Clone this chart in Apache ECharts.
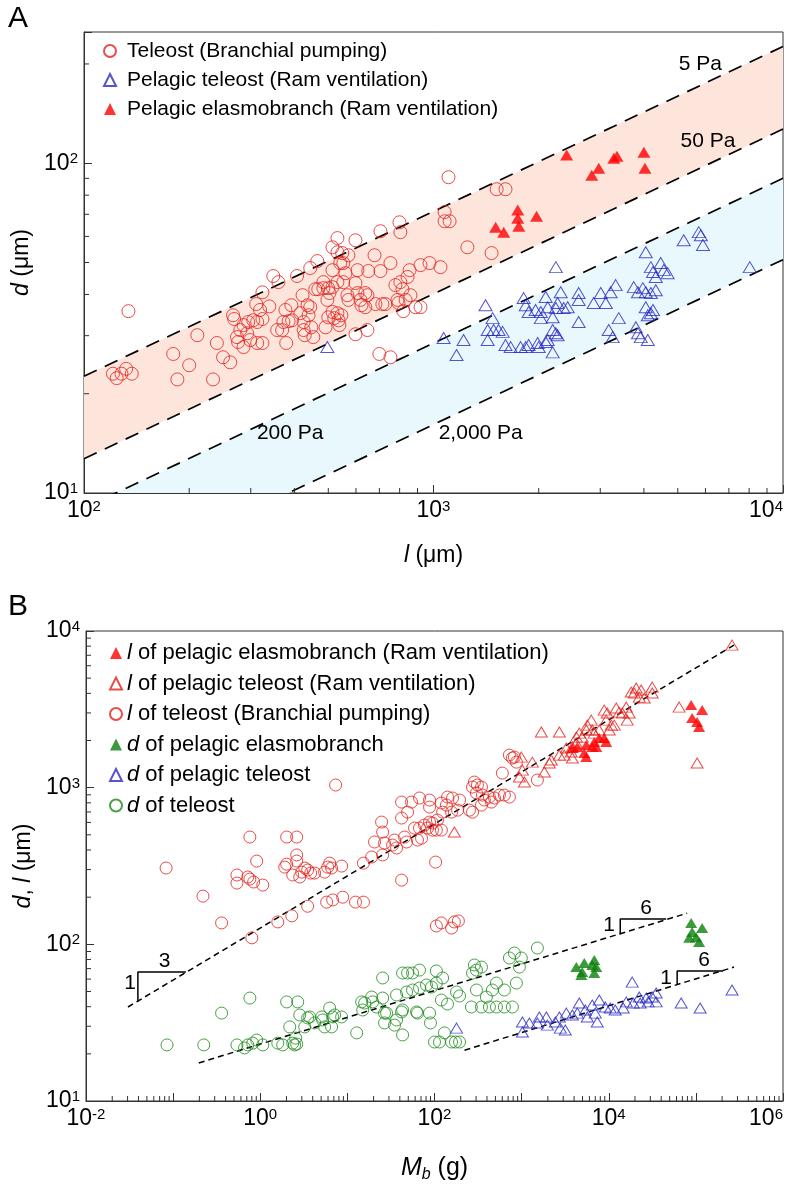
<!DOCTYPE html>
<html lang="en">
<head>
<meta charset="UTF-8" />
<title>Gill spacing vs length and body mass</title>
<script src="https://cdn.jsdelivr.net/npm/echarts@6.0.0/dist/echarts.min.js"></script>
<style>
  html, body { margin: 0; padding: 0; background: #fff; }
  #chart { width: 789px; height: 1188px; }
</style>
</head>
<body>
<div id="chart"></div>
<script>
// ---------- panel A : d vs l ----------
const teleostA = [
  [134,35.6],[121,23.0],[124,22.3],[128,23.0],[132,23.8],[137,23.0],
  [180,26.4],[185,22.1],[200,24.4],[211,30.1],[234,22.1],[240,28.5],[250,25.8],[262,24.9],
  [267,34.6],[269,33.7],[280,31.2],[286,32.3],[295,33.0],[305,33.4],[313,33.0],[324,33.7],
  [274,29.7],[276,28.7],[286,27.7],[293,30.5],[299,29.1],[313,28.5],[324,28.5],
  [311,37.4],[319,35.9],[324,40.6],[339,36.8],[348,45.5],[360,43.6],
  [357,31.2],[369,31.2],[379,28.5],[372,33.0],[385,33.2],[394,33.4],[377,35.9],[392,37.1],
  [407,45.5],[416,35.1],[422,39.8],[425,33.0],[425,31.2],[428,30.1],[436,37.1],[439,34.6],[444,36.6],[447,31.8],[453,29.7],
  [444,48.1],[465,50.5],[459,41.5],[468,41.5],[484,41.8],[500,41.8],[514,42.1],[484,43.6],[497,38.5],[504,40.4],
  [491,31.8],[500,34.1],[514,35.4],[520,33.9],[531,35.1],[535,33.4],[538,32.3],[545,34.6],
  [514,55.6],[531,59.3],[531,53.7],[548,53.4],[552,49.8],[571,52.6],
  [514,47.4],[531,43.6],[541,49.8],[552,43.6],[560,46.4],[567,39.8],[571,38.5],
  [598,58.4],[598,43.3],[606,40.4],[606,47.4],[618,38.5],[622,37.1],[638,40.4],[638,36.6],[647,39.8],
  [598,30.3],[647,31.2],[651,47.1],[678,52.6],[705,47.1],[705,62.2],[682,37.4],[714,37.4],[728,37.4],
  [700,26.4],[753,25.8],[753,49.8],[789,38.5],[794,37.7],[820,35.6],[832,38.5],[859,39.8],[888,36.6],
  [778,42.7],[804,43.6],[815,41.5],[843,45.2],[854,47.4],[799,66.2],[804,61.8],
  [918,49.1],[974,49.8],[1076,71.1],[1076,66.7],[1112,66.7],[1047,48.4],[1104,90.7],
  [1516,83.4],[1607,83.4],[1250,55.6],[1466,53.4],[918,36.6]
];
const pelagicA = [
  [497,27.7],[2239,48.4],[1409,37.1],[1476,33.9],[1486,31.2],[1429,31.2],[1535,31.2],[1577,30.8],[1429,29.1],
  [1069,29.5],[1219,29.1],[1164,26.2],[1607,28.1],[1663,27.7],[1775,27.7],[1836,27.7],[1871,28.1],
  [1986,28.5],[2000,27.7],[2094,28.7],[2123,29.1],[2193,26.7],[2193,31.2],[2239,30.5],[2265,30.1],
  [1811,39.0],[1836,37.1],[1871,35.4],[1959,35.9],[2028,35.4],[2028,33.9],[2094,39.3],[2123,36.6],
  [2193,34.1],[2239,36.4],[2265,37.7],[2312,40.6],[2357,36.4],[2421,36.6],
  [2602,40.4],[2602,38.5],[2602,33.0],[2872,37.7],[3010,40.4],[3112,37.7],[3212,40.6],[3320,42.7],[3389,33.9],
  [3172,31.2],[3256,29.7],[3741,42.1],[3846,40.6],[3972,41.8],[4049,40.6],[4188,40.4],[4325,41.2],
  [3793,31.8],[3846,30.5],[3917,29.7],[4103,29.1],[4049,53.7],[4188,48.4],[4246,46.8],[4325,45.2],
  [4467,49.8],[4560,47.4],[4677,46.4],[4049,36.6],[4103,34.6],[4188,35.1],[4246,35.9],
  [5200,58.4],[5741,61.8],[5821,60.5],[5902,56.5],[8035,48.4]
];
const elasmoA = [
  [2404,106],[2837,92],[2971,96.6],[3280,103.5],[3350,105],[3999,108],[4027,96.6],
  [1742,72.1],[1742,68.1],[1754,64.4],[1972,69.1],[1506,64.0],[1588,61.8]
];
// iso-pressure lines (end points at l = 100 and l = 10^4)
const line5Pa = [[100, 22.6], [10000, 226]];
const line50Pa = [[100, 12.7], [10000, 127]];
const line200Pa = [[100, 9.0], [10000, 90]];
const line2000Pa = [[100, 5.1], [10000, 51]];
const pressureText = [
  { name: '5 Pa', value: [5800, 200] },
  { name: '50 Pa', value: [6100, 117] },
  { name: '200 Pa', value: [389, 15.2] },
  { name: '2,000 Pa', value: [1365, 15.2] }
];

// ---------- panel B : d, l vs body mass ----------
const lElasmoB = [
  [3820,1791],[4355,1816],[5235,1663],[5520,1567],[6470,1816],[6820,1955],[7190,1816],[7780,2073],
  [8870,2073],[9350,1955],[5520,1871],[88300,3365],[118000,3126],[90600,2780],[103300,2622],[108900,2436]
];
const lPelagicB = [
  [260000,8130],[31550,4385],[31550,4017],[18110,4075],[19590,4017],[22390,3785],[23550,4200],[20650,4325],
  [25530,3733],[8870,3126],[9610,2993],[12190,3222],[13180,3034],[14290,2993],[15890,3268],[17180,2993],
  [16290,2699],[11560,2506],[10140,2333],[10690,2506],[9350,2699],[7780,2333],[6300,2699],[5670,2506],
  [6470,2333],[6820,2229],[5520,2333],[4965,2103],[4590,2229],[4245,2103],[1683,2265],[2710,2265],
  [4245,1927],[3820,1816],[3715,1688],[3260,1791],[3090,1614],[2710,1614],[3820,1545],[2193,1500],
  [2080,1436],[1824,1259],[1327,1455],[993,1567],[1021,1294],[1076,1086],[942,1169],[169,521],
  [64270,3268],[103300,1436]
];
const lTeleostB = [
  [0.083,307],[0.22,203],[0.36,137],[0.54,277],[0.54,246],[0.72,269],[0.76,261],[0.84,250],[1.07,239],
  [0.76,484],[0.91,340],[0.80,110],[1.59,139],[2.30,152],[3.50,175],[2.01,484],[2.62,484],
  [1.91,311],[2.01,325],[2.36,277],[2.62,372],[2.62,340],[2.84,269],[2.99,289],[3.24,307],[3.50,298],
  [3.79,285],[4.21,285],[5.48,289],[5.94,311],[6.26,330],[6.59,307],[8.59,316],
  [5.78,186],[6.78,192],[8.83,200],[12.4,186],[15.3,186],[7.33,1040],
  [15.3,330],[19.0,361],[20.5,450],[24.7,603],[25.4,521],[25.4,372],[26.7,443],[33.0,430],[36.7,412],[34.8,463],
  [41.9,640],[41.9,809],[41.9,257],[45.3,484],[47.8,450],[49.1,698],[54.5,809],[59.0,552],[63.8,463],
  [67.3,552],[67.3,859],[83.2,552],[87.7,603],[87.7,752],[94.8,536],[108,621],[103,335],
  [105,131],[120,137],[157,127],[169,139],[188,141],
  [87.7,834],[76.7,577],[94.8,594],[105,536],[120,536],[71.0,476],
  [194,834],[161,859],[141,871],[120,798],[124,698],[137,774],[157,698],[184,719],[273,698],[252,719],[346,774],
  [287,1086],[311,1040],[346,1009],[273,1009],[355,897],[303,925],
  [427,871],[488,859],[556,897],[634,897],[724,871],[374,834],[450,809],
  [724,1614],[783,1545],[871,1455],[826,1567],[1517,1119],[601,1239]
];
const dElasmoB = [
  [4245,71.6],[4965,66.5],[5235,76.0],[6470,73.8],[6820,79.4],[7190,71.6],[4840,63.7],[6820,65.6],
  [88300,137],[118000,127],[90600,120],[100700,111],[108900,103.5],[83750,110]
];
const dPelagicB = [
  [179,29.2],[1021,31.9],[1021,27.6],[1227,31.5],[1517,31.5],[1972,30.5],[2438,31.9],[2780,29.2],[3170,28.4],
  [3820,35.4],[4355,36.4],[5380,38.1],[5670,34.4],[7000,36.4],[7380,31.9],[9120,39.8],[10400,39.2],[11860,38.1],
  [14660,39.2],[19100,42.2],[22960,42.2],[28380,42.9],[35000,42.9],[67760,42.2],[111900,39.2],
  [18580,57.4],[35000,48.9],[31550,46.1],[26920,45.4],[22390,46.1],[15890,42.9],[7780,44.1],[6470,41.0],
  [4590,42.2],[3260,36.4],[2710,34.4],[1923,34.4],[1596,34.4],[260000,51.1]
];
const dTeleostB = [
  [0.085,22.8],[0.225,22.8],[0.36,36.4],[0.76,45.4],[0.54,22.8],[0.66,21.8],[0.72,22.8],[0.82,23.4],[0.91,24.5],[1.07,22.8],
  [1.59,23.4],[1.81,22.8],[2.36,23.4],[2.48,22.8],[2.62,23.1],[2.01,42.9],[2.69,42.9],[2.18,29.7],[2.84,35.4],[3.24,29.7],
  [3.50,33.9],[4.21,31.5],[5.20,32.9],[5.48,29.7],[6.59,29.7],[6.26,39.2],[6.78,34.4],[8.59,34.4],[2.55,25.2],
  [3.69,34.4],[5.07,34.4],[7.14,35.4],
  [12.8,27.2],[15.8,42.2],[19.0,46.1],[15.0,38.1],[21.6,39.8],[25.4,45.4],[25.4,61.0],[28.2,36.4],[26.7,31.5],
  [14.6,42.9],[19.5,42.9],[26.7,36.4],
  [36.7,32.9],[34.8,30.5],[43.0,26.4],[43.0,38.1],[36.7,47.5],[43.0,65.6],[49.1,65.6],[56.0,65.6],[67.3,68.5],
  [47.8,49.6],[56.0,51.1],[67.3,52.6],[80.9,55.0],[92.5,53.4],[105,67.6],[124,61.0],[105,56.6],[62.2,37.0],[89.9,31.5],
  [41.9,37.0],[63.8,36.4],[87.7,36.4],
  [120,44.1],[141,41.6],[179,49.6],[194,46.8],[100,23.8],[114,23.8],[130,27.2],[157,23.8],[174,23.8],[194,23.8],
  [287,73.8],[303,68.5],[1517,94.7],[724,81.8],[826,88.0],[942,71.6],[993,81.8],[346,71.6],[273,65.6],[303,51.1],
  [462,51.1],[394,46.1],[514,56.6],[634,51.1],[871,56.6],
  [265,39.8],[346,39.8],[427,39.8],[514,39.8],[634,39.8],[783,39.8]
];
// fitted power laws and slope markers
const lFitB = [[0.0303, 39.8], [274000, 8130]];
const dTeleostFitB = [[0.197, 17.5], [79400, 158]];
const dPelagicFitB = [[221, 21.1], [274000, 71.6]];
const slope3 = [[0.0394, 42.8], [0.0394, 66.5], [0.14, 66.5]];
const slope6Upper = [[13550, 116], [13550, 145], [45600, 145]];
const slope6Lower = [[61000, 55], [61000, 67.6], [205000, 67.6]];
const slopeText = [
  { name: '3', value: [0.080, 78] }, { name: '1', value: [0.032, 56.6] },
  { name: '6', value: [26900, 171] }, { name: '1', value: [10100, 133] },
  { name: '6', value: [124000, 79.4] }, { name: '1', value: [45600, 61] }
];

const FONT = "'Liberation Sans', Arial, Helvetica, sans-serif";
const RED = '#e3211c', REDFILL = '#ff0000', BLUE = '#2a2ac4', GREEN = '#1b8a1b', GREENFILL = '#0b800b';
const AXIS = '#333';

function minorTicks(e0, e1) {
  const out = [];
  for (let e = e0; e < e1; e++) for (let k = 2; k <= 9; k++) out.push(k * Math.pow(10, e));
  return out;
}

function powLabel(even) {
  return function (v) {
    const e = Math.round(Math.log10(v));
    if (Math.abs(v / Math.pow(10, e) - 1) > 1e-6) return '';
    if (even && e % 2 !== 0) return '';
    return '10{sup|' + e + '}';
  };
}

const labelStyle = {
  color: '#000', fontSize: 23, fontFamily: FONT,
  rich: { sup: { fontSize: 15, fontFamily: FONT, color: '#000', verticalAlign: 'top' } }
};

function logAxis(grid, min, max, extra) {
  return Object.assign({
    gridIndex: grid, type: 'log', logBase: 10, min: min, max: max,
    axisLine: { lineStyle: { color: AXIS, width: 1 } },
    axisTick: { inside: true, length: 8, lineStyle: { color: AXIS } },
    splitLine: { show: false },
    nameLocation: 'middle'
  }, extra);
}

function tickSeries(grid, values, horizontal, other) {
  return {
    type: 'custom', xAxisIndex: grid, yAxisIndex: grid, silent: true, z: 6,
    data: values.map(v => horizontal ? [v, other] : [other, v]),
    renderItem: (params, api) => {
      const p = api.coord([api.value(0), api.value(1)]);
      const shape = horizontal
        ? { x1: p[0], y1: p[1], x2: p[0], y2: p[1] - 5 }
        : { x1: p[0], y1: p[1], x2: p[0] + 5, y2: p[1] };
      return { type: 'line', shape: shape, style: { stroke: AXIS, lineWidth: 1 } };
    }
  };
}

function bandSeries(points, color) {
  return {
    type: 'custom', xAxisIndex: 0, yAxisIndex: 0, silent: true, z: 1, clip: true,
    data: [points[0]],
    renderItem: (params, api) => {
      const cs = params.coordSys;
      return {
        type: 'polygon',
        shape: { points: points.map(p => api.coord(p)) },
        style: { fill: color },
        clipPath: { type: 'rect', shape: { x: cs.x, y: cs.y, width: cs.width, height: cs.height } }
      };
    }
  };
}

function dashed(grid, data, dash, width) {
  return {
    type: 'line', xAxisIndex: grid, yAxisIndex: grid, data: data, symbol: 'none', silent: true, z: 3,
    lineStyle: { color: '#000', width: width, type: dash }
  };
}

function hollow(name, grid, data, symbol, size, color) {
  return {
    name: name, type: 'scatter', xAxisIndex: grid, yAxisIndex: grid, data: data,
    symbol: symbol, symbolSize: size, z: 4,
    itemStyle: { color: 'rgba(0,0,0,0)', borderColor: color, borderWidth: 1 }
  };
}

function filled(name, grid, data, size, color) {
  return {
    name: name, type: 'scatter', xAxisIndex: grid, yAxisIndex: grid, data: data,
    symbol: 'triangle', symbolSize: size, z: 4,
    itemStyle: { color: color, borderWidth: 0 }
  };
}

function textSeries(grid, data, size) {
  return {
    type: 'scatter', xAxisIndex: grid, yAxisIndex: grid, data: data, symbolSize: 0, silent: true, z: 5,
    itemStyle: { color: '#000' },
    label: {
      show: true, position: 'inside', formatter: '{b}', fontSize: size, color: '#000', fontFamily: FONT,
      textBorderWidth: 0, textBorderColor: 'transparent', opacity: 1
    }
  };
}

const namesA = ['Teleost (Branchial pumping)', 'Pelagic teleost (Ram ventilation)', 'Pelagic elasmobranch (Ram ventilation)'];
const namesB = ['l of pelagic elasmobranch (Ram ventilation)', 'l of pelagic teleost (Ram ventilation)',
  'l of teleost (Branchial pumping)', 'd of pelagic elasmobranch', 'd of pelagic teleost', 'd of teleost'];

const chart = echarts.init(document.getElementById('chart'));
const option = {
  animation: false,
  backgroundColor: '#fff',
  textStyle: { fontFamily: FONT },
  grid: [
    { left: 84, right: 6, top: 32, bottom: 695, show: true, borderColor: AXIS, borderWidth: 1 },
    { left: 86, right: 6, top: 631, bottom: 87, show: true, borderColor: AXIS, borderWidth: 1 }
  ],
  xAxis: [
    logAxis(0, 100, 10000, {
      axisLabel: Object.assign({ formatter: powLabel(false), margin: 6, alignMaxLabel: 'right' }, labelStyle),
      name: '{i|l} (μm)', nameGap: 51,
      nameTextStyle: { fontSize: 23, color: '#000', fontFamily: FONT, rich: { i: { fontSize: 23, fontStyle: 'italic', fontFamily: FONT } } }
    }),
    logAxis(1, 0.01, 1000000, {
      axisLabel: Object.assign({ formatter: powLabel(true), margin: 6, alignMaxLabel: 'right' }, labelStyle),
      name: '{i|M}{sub|b} (g)', nameGap: 52,
      nameTextStyle: { fontSize: 25, color: '#000', fontFamily: FONT,
        rich: { i: { fontSize: 25, fontStyle: 'italic', fontFamily: FONT },
                sub: { fontSize: 16, fontStyle: 'italic', fontFamily: FONT, padding: [14, 0, 0, 0] } } }
    })
  ],
  yAxis: [
    logAxis(0, 10, 250, {
      axisLabel: Object.assign({ formatter: powLabel(false), margin: 6 }, labelStyle),
      name: '{i|d} (μm)', nameGap: 42,
      nameTextStyle: { fontSize: 23, color: '#000', fontFamily: FONT, rich: { i: { fontSize: 23, fontStyle: 'italic', fontFamily: FONT } } }
    }),
    logAxis(1, 10, 10000, {
      axisLabel: Object.assign({ formatter: powLabel(false), margin: 6 }, labelStyle),
      name: '{i|d}, {i|l} (μm)', nameGap: 44,
      nameTextStyle: { fontSize: 23, color: '#000', fontFamily: FONT, rich: { i: { fontSize: 23, fontStyle: 'italic', fontFamily: FONT } } }
    })
  ],
  legend: [
    {
      data: namesA, orient: 'vertical', left: 98, top: 35, itemWidth: 12, itemHeight: 12, itemGap: 7,
      selectedMode: false,
      textStyle: { fontSize: 21, color: '#000', fontFamily: FONT, lineHeight: 22, padding: [0, 0, 0, 6] }
    },
    {
      data: namesB, orient: 'vertical', left: 104, top: 637, itemWidth: 12, itemHeight: 12, itemGap: 8.5,
      selectedMode: false,
      formatter: name => '{i|' + name.charAt(0) + '}' + name.slice(1),
      textStyle: { fontSize: 22, color: '#000', fontFamily: FONT, lineHeight: 22, padding: 0,
        rich: { i: { fontSize: 22, fontStyle: 'italic', fontFamily: FONT, lineHeight: 22 } } }
    }
  ],
  graphic: [
    { type: 'text', left: 8, top: 4, style: { text: 'A', fontSize: 30, fill: '#000', fontFamily: FONT } },
    { type: 'text', left: 8, top: 592, style: { text: 'B', fontSize: 30, fill: '#000', fontFamily: FONT } }
  ],
  series: [
    bandSeries(line5Pa.concat(line50Pa.slice().reverse()), '#fde5dc'),
    bandSeries(line200Pa.concat(line2000Pa.slice().reverse()), '#e8f8fc'),
    dashed(0, line5Pa, [14, 9], 1.7),
    dashed(0, line50Pa, [14, 9], 1.7),
    dashed(0, line200Pa, [14, 9], 1.7),
    dashed(0, line2000Pa, [14, 9], 1.7),
    hollow(namesA[0], 0, teleostA, 'circle', 13, RED),
    hollow(namesA[1], 0, pelagicA, 'triangle', [13, 11], BLUE),
    filled(namesA[2], 0, elasmoA, [13, 11], REDFILL),
    textSeries(0, pressureText, 21),
    tickSeries(0, minorTicks(2, 4), true, 10),
    tickSeries(0, minorTicks(1, 2).concat([200]), false, 100),

    dashed(1, lFitB, [6, 4], 1.5),
    dashed(1, dTeleostFitB, [6, 4], 1.5),
    dashed(1, dPelagicFitB, [6, 4], 1.5),
    { type: 'line', xAxisIndex: 1, yAxisIndex: 1, data: slope3, symbol: 'none', silent: true, lineStyle: { color: '#000', width: 1.5 } },
    { type: 'line', xAxisIndex: 1, yAxisIndex: 1, data: slope6Upper, symbol: 'none', silent: true, lineStyle: { color: '#000', width: 1.5 } },
    { type: 'line', xAxisIndex: 1, yAxisIndex: 1, data: slope6Lower, symbol: 'none', silent: true, lineStyle: { color: '#000', width: 1.5 } },
    hollow(namesB[2], 1, lTeleostB, 'circle', 12, RED),
    hollow(namesB[5], 1, dTeleostB, 'circle', 12, GREEN),
    hollow(namesB[4], 1, dPelagicB, 'triangle', [12, 10], BLUE),
    hollow(namesB[1], 1, lPelagicB, 'triangle', [12, 10], RED),
    filled(namesB[0], 1, lElasmoB, [12, 10], REDFILL),
    filled(namesB[3], 1, dElasmoB, [12, 10], GREENFILL),
    textSeries(1, slopeText, 21),
    tickSeries(1, minorTicks(-2, 6), true, 10),
    tickSeries(1, minorTicks(1, 4), false, 0.01)
  ]
};
chart.setOption(option);
</script>
</body>
</html>
